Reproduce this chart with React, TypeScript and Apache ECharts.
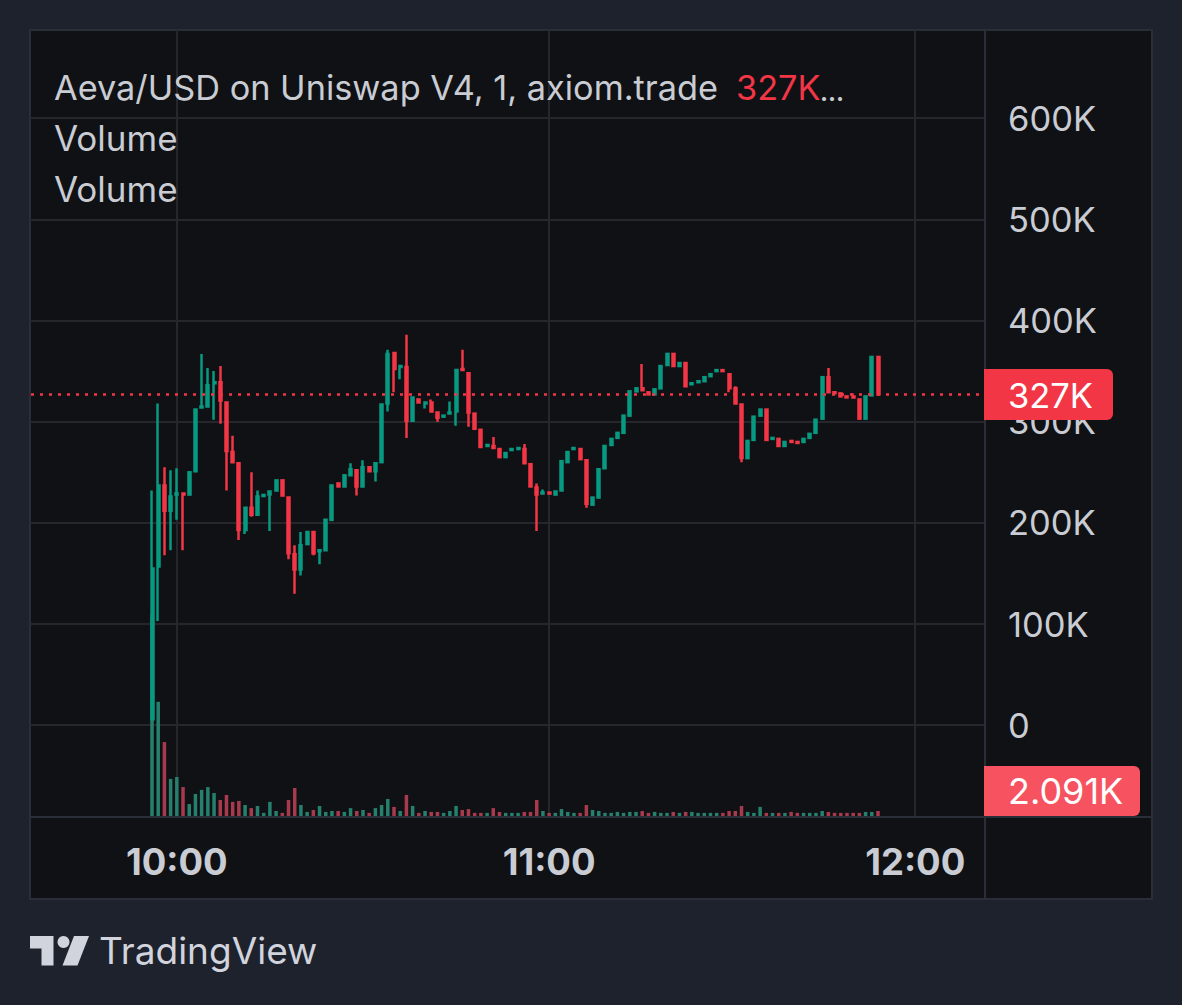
import React, { useEffect, useRef } from "react";
import * as echarts from "echarts";

// prices in thousands of USD, one candle per minute from 09:56
const openValues = [
  6, 157, 237, 212, 228, 229, 228, 251, 314, 315, 338, 339, 319, 270, 259, 193, 215, 208, 226.5, 228,
  232, 242, 225, 169, 154, 179, 191, 172, 173, 203, 239, 236, 247, 252, 236, 255, 251, 260, 318, 368,
  354, 354, 301, 322, 318, 319, 309, 305, 308, 310, 352, 348, 308, 292, 276, 276, 273, 265, 272, 273,
  273, 258, 235, 229, 230, 228, 232, 260, 273, 273, 262, 218, 225, 254, 277, 284, 289, 306, 330, 333,
  329, 327, 333, 356, 367, 355, 358, 337, 339, 340, 345, 350, 351, 347, 333, 317, 264, 282, 306, 312,
  283, 283, 276, 281, 280, 280, 284, 289, 303, 344, 329, 328, 325, 325, 322, 303, 326, 364,
];
const closeValues = [
  155, 237, 212, 226, 229, 228, 250, 312, 315, 336, 339, 321, 271, 260, 193, 215, 208, 226, 227.5, 231,
  242, 227, 170, 154, 178, 191, 170, 173, 203, 237, 236, 247, 253, 236, 255, 251, 259, 317, 367, 352,
  355, 301, 324, 319, 319, 310, 304, 306, 309, 351, 351, 309, 293, 275, 277, 274, 265, 269, 273, 274,
  259, 236, 228, 230, 229, 231, 261, 270, 274, 263, 219, 225, 253, 276, 283, 289, 306, 330, 333, 331,
  327, 332, 355, 367, 355, 358, 335, 338, 340, 344, 347, 351, 350, 333, 318, 264, 281, 305, 312, 282,
  284, 276, 280, 280, 279, 283, 288, 302, 344, 329, 328, 325, 324, 324, 303, 325, 364, 327,
];
const lowValues = [
  6, 103, 168, 173, 203, 173, 228, 251, 314, 315, 302, 298, 232, 259, 183, 189, 206, 208, 226, 192,
  232, 227, 164, 130, 148, 179, 168, 159, 173, 203, 236, 236, 246, 227, 235, 251, 241, 260, 310, 329,
  342, 284, 301, 319, 313, 310, 300, 305, 308, 296, 351, 295, 293, 275, 276, 274, 265, 265, 272, 273,
  259, 236, 192, 229, 229, 228, 232, 260, 273, 263, 215, 218, 225, 254, 277, 284, 289, 306, 330, 330,
  327, 327, 333, 356, 355, 355, 335, 337, 339, 340, 345, 350, 350, 329, 318, 260, 264, 282, 306, 282,
  283, 276, 276, 280, 279, 280, 284, 289, 303, 329, 327, 325, 324, 324, 303, 303, 326, 327,
];
const highValues = [
  232, 318, 255, 252, 254, 230, 250, 312, 367, 353, 350, 355, 319, 286, 259, 215, 250, 232, 228, 232,
  242, 242, 225, 178, 191, 191, 192, 173, 204, 237, 239, 247, 259, 252, 262, 255, 259, 317, 371, 369,
  356, 386, 325, 322, 320, 322, 309, 306, 320, 351, 371, 348, 308, 292, 277, 285, 273, 269, 273, 274,
  278, 258, 239, 233, 230, 231, 261, 270, 274, 273, 262, 225, 253, 276, 283, 289, 306, 330, 333, 357,
  329, 332, 355, 367, 367, 358, 358, 338, 340, 344, 347, 351, 351, 347, 335, 317, 281, 305, 312, 312,
  284, 283, 280, 281, 280, 283, 288, 302, 344, 353, 330, 328, 325, 328, 322, 325, 364, 364,
];
const volumeValues = [
  84, 47.7, 30.9, 15.5, 16.3, 12.1, 5, 9.2, 10.9, 12.1, 9.6, 6.7, 8.8, 5.9, 6.3, 4.6, 3.3, 4.2, 1.3, 5.9,
  2.1, 1.3, 6.7, 11.7, 4.6, 1.7, 2.5, 4.2, 1.7, 2.1, 2.1, 1.7, 3.3, 2.1, 2.5, 1.3, 3.3, 4.6, 7.1, 3.8,
  2.1, 8.8, 4.2, 1.3, 2.1, 1.7, 1.7, 1.3, 2.1, 4.2, 2.5, 2.9, 1.3, 1.3, 1.3, 3.3, 1.7, 1.3, 1.3, 1.3,
  1.7, 1.7, 6.7, 2.1, 1.3, 1.3, 2.9, 1.7, 1.3, 1.3, 4.6, 2.5, 2.1, 1.3, 1.3, 1.7, 1.3, 1.7, 1.7, 2.1,
  1.3, 1.7, 1.3, 1.3, 1.7, 1.3, 1.7, 1.7, 1.3, 1.3, 1.3, 1.3, 1.3, 2.1, 2.1, 4.2, 1.7, 1.3, 3.8, 1.3,
  1.3, 1.3, 1.3, 1.7, 1.3, 1.3, 1.3, 1.3, 2.1, 1.7, 1.3, 1.3, 1.3, 1.3, 1.3, 1.7, 1.7, 2.091,
];
const timeTicks = ["10:00", "11:00", "12:00"];
const lastPrice = 327;

const UP = "#089981";
const DOWN = "#f23645";
const UP_VOL = "#26806e";
const DOWN_VOL = "#a83a4e";
const GRID_LINE = "#25272c";
const FRAME = "#2a2e39";
const TEXT = "#c9ccd3";
const FONT = "Inter";

// time slots of the x axis, the chart is scrolled so 19 are empty before the first candle
const timeSlots: string[] = [];
for (let m = 9 * 60 + 37; timeSlots.length < 154; m++) {
  if (m === 11 * 60 + 57) continue; // no bar that minute, 12:00 sits one slot early
  const h = Math.floor(m / 60);
  timeSlots.push(`${String(h).padStart(2, "0")}:${String(m % 60).padStart(2, "0")}`);
}
const firstSlot = 19;
const candleSlots = timeSlots.slice(firstSlot, firstSlot + openValues.length);

const label = (text: string, x: number, y: number, fontSize: number, fill = TEXT, extra = {}) => ({
  type: "text",
  z: 100,
  style: { text, x, y, fontSize, fill, fontFamily: FONT, verticalAlign: "middle", ...extra },
});

export default function App() {
  const chartRef = useRef<HTMLDivElement>(null);

  useEffect(() => {
    document.body.style.margin = "0";
    if (!chartRef.current) return;
    const chart = echarts.init(chartRef.current, null, { renderer: "svg" });

    const hiddenY = { show: false, type: "value" as const };

    chart.setOption({
      animation: false,
      backgroundColor: "#1e222d",
      grid: [
        // price scale and its lines
        { left: 30, width: 955, top: 17, height: 809.4 },
        // candles
        { left: 31, width: 955.6, top: 17, height: 809.4 },
        // volume pane, also carries the time axis
        { left: 31, width: 955.6, top: 30, height: 786 },
      ],
      xAxis: [
        { gridIndex: 0, type: "value", show: false, min: 0, max: 1 },
        { gridIndex: 1, type: "category", show: false, data: timeSlots },
        {
          gridIndex: 2,
          type: "category",
          data: timeSlots,
          axisLine: { show: false },
          axisTick: { show: false },
          splitLine: {
            show: true,
            alignWithLabel: true,
            interval: (_: number, name: string) => timeTicks.includes(name),
            lineStyle: { color: GRID_LINE, width: 2 },
          },
          axisLabel: {
            interval: (_: number, name: string) => timeTicks.includes(name),
            margin: 27,
            fontFamily: FONT,
            fontWeight: 700,
            fontSize: 36.5,
            color: TEXT,
          },
        },
      ],
      yAxis: [
        {
          gridIndex: 0,
          type: "value",
          position: "right",
          min: -100,
          max: 700,
          interval: 100,
          axisLine: { show: false },
          axisTick: { show: false },
          splitLine: { show: true, showMinLine: false, showMaxLine: false, lineStyle: { color: GRID_LINE, width: 2 } },
          axisLabel: {
            showMinLabel: false,
            showMaxLabel: false,
            margin: 23,
            fontFamily: FONT,
            fontSize: 34.5,
            color: TEXT,
            formatter: (v: number) => (v === 0 ? "0" : `${v}K`),
          },
        },
        { ...hiddenY, gridIndex: 1, min: -100, max: 700, interval: 100 },
        { ...hiddenY, gridIndex: 2, min: 0, max: 328.5 },
      ],
      series: [
        {
          name: "Volume",
          type: "bar",
          xAxisIndex: 2,
          yAxisIndex: 2,
          barWidth: 3.5,
          data: volumeValues.map((v, i) => ({
            value: [candleSlots[i], v],
            itemStyle: { color: closeValues[i] >= openValues[i] ? UP_VOL : DOWN_VOL },
          })),
        },
        {
          name: "Aeva/USD",
          type: "candlestick",
          xAxisIndex: 1,
          yAxisIndex: 1,
          barWidth: 2.5,
          data: openValues.map((o, i) => [candleSlots[i], o, closeValues[i], lowValues[i], highValues[i]]),
          encode: { x: 0, y: [1, 2, 3, 4] },
          itemStyle: { color: UP, color0: DOWN, borderColor: UP, borderColor0: DOWN, borderWidth: 2.5 },
          markLine: {
            silent: true,
            symbol: "none",
            label: { show: false },
            lineStyle: { color: DOWN, type: [3, 6], width: 2.5 },
            data: [{ yAxis: lastPrice }],
          },
        },
      ],
      graphic: [
        // panel frame and pane separators
        {
          type: "rect",
          z: -1,
          shape: { x: 30, y: 30, width: 1122, height: 869 },
          style: { fill: "#101114", stroke: FRAME, lineWidth: 2 },
        },
        { type: "line", z: 50, shape: { x1: 985, y1: 30, x2: 985, y2: 899 }, style: { stroke: FRAME, lineWidth: 2 } },
        { type: "line", z: 50, shape: { x1: 30, y1: 817, x2: 1152, y2: 817 }, style: { stroke: FRAME, lineWidth: 2 } },
        // legend
        label("Aeva/USD on Uniswap V4, 1, axiom.trade", 54, 87, 34.3),
        label(`${lastPrice}K`, 736, 87, 34.3, DOWN),
        label("...", 820, 92, 24, TEXT, { fontWeight: 700 }),
        label("Volume", 54, 138, 35),
        label("Volume", 54, 189, 35),
        // last value tags
        {
          type: "rect",
          z: 90,
          shape: { x: 984, y: 369, width: 129, height: 51, r: [0, 6, 6, 0] },
          style: { fill: DOWN },
        },
        label(`${lastPrice}K`, 1008, 395, 34.5, "#ffffff"),
        {
          type: "rect",
          z: 90,
          shape: { x: 984, y: 766, width: 156, height: 50, r: [0, 6, 6, 0] },
          style: { fill: "#f7525f" },
        },
        label("2.091K", 1008, 791, 36, "#ffffff"),
        // TradingView mark
        {
          type: "polygon",
          z: 100,
          shape: { points: [[30, 936], [53.5, 936], [53.5, 965.5], [41.5, 965.5], [41.5, 948.5], [30, 948.5]] },
          style: { fill: "#d1d4dc" },
        },
        { type: "circle", z: 100, shape: { cx: 63.5, cy: 942, r: 6 }, style: { fill: "#d1d4dc" } },
        {
          type: "polygon",
          z: 100,
          shape: { points: [[74, 936], [89, 936], [77.5, 965.5], [62.5, 965.5]] },
          style: { fill: "#d1d4dc" },
        },
        label("TradingView", 99, 950, 37, "#d1d4dc"),
      ],
    });

    return () => {
      chart.dispose();
    };
  }, []);

  return <div ref={chartRef} style={{ width: "1182px", height: "1005px" }} />;
}
